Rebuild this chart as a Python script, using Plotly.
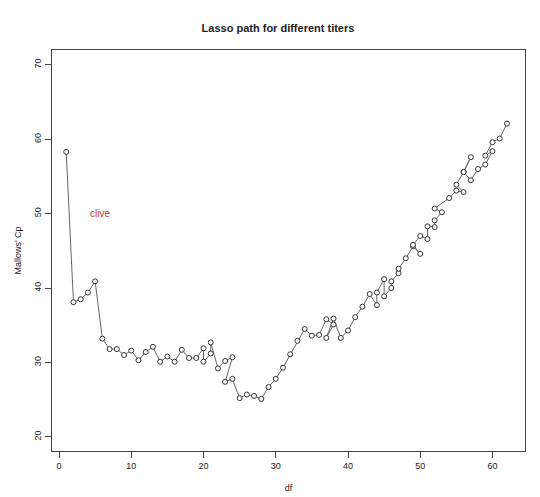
import plotly.graph_objects as go

# lasso path: df vs Mallows' Cp
df_vals = [1, 2, 3, 4, 5, 6, 7, 8, 9, 10, 11, 12, 13, 14, 15, 16, 17, 18, 19,
           20, 20, 21, 21, 22, 23, 24, 23, 24, 25, 26, 27, 28, 29, 30, 31, 32,
           33, 34, 35, 36, 37, 38, 37, 38, 39, 40, 41, 42, 43, 44, 44, 45, 45,
           46, 46, 47, 47, 48, 49, 50, 49, 50, 51, 51, 52, 52, 53, 52, 54, 55,
           56, 55, 56, 57, 56, 57, 58, 59, 60, 59, 60, 61, 62]
cp_vals = [58.3, 38.1, 38.5, 39.4, 40.9, 33.2, 31.8, 31.8, 31.0, 31.6, 30.3,
           31.4, 32.1, 30.1, 30.8, 30.1, 31.7, 30.6, 30.6, 31.9, 30.1, 31.2,
           32.7, 29.2, 30.2, 30.7, 27.4, 27.8, 25.2, 25.7, 25.5, 25.1, 26.7,
           27.8, 29.3, 31.1, 32.9, 34.5, 33.6, 33.7, 35.8, 35.1, 33.3, 35.9,
           33.3, 34.3, 36.1, 37.5, 39.2, 37.7, 39.4, 41.2, 38.9, 40.0, 40.9,
           42.0, 42.6, 44.0, 45.6, 44.6, 45.8, 47.0, 46.6, 48.3, 48.2, 49.1,
           50.2, 50.7, 52.1, 53.1, 52.9, 53.9, 55.6, 57.6, 55.6, 54.5, 56.0,
           56.6, 58.4, 57.8, 59.6, 60.1, 62.1]

fig = go.Figure()
fig.add_trace(go.Scatter(
    x=df_vals, y=cp_vals, mode="lines+markers",
    line=dict(color="#666666", width=1),
    marker=dict(symbol="circle", size=5, color="white",
                line=dict(color="#333333", width=1)),
    showlegend=False))

fig.add_annotation(x=5.7, y=50, text="clive", showarrow=False,
                   font=dict(color="#c0392b", size=10))

axis_common = dict(showgrid=False, zeroline=False, mirror=True, showline=True,
                   linecolor="#444444", linewidth=1, ticks="outside",
                   ticklen=6, tickcolor="#444444", automargin=False,
                   tickfont=dict(size=9, color="#222222"))
fig.update_xaxes(range=[-0.97, 64.5], tickvals=[0, 10, 20, 30, 40, 50, 60],
                 title=dict(text="df", font=dict(size=9), standoff=14), **axis_common)
fig.update_yaxes(range=[18.1, 72.0], tickvals=[20, 30, 40, 50, 60, 70],
                 tickangle=-90,
                 title=dict(text="Mallows' Cp", font=dict(size=9), standoff=10), **axis_common)

fig.update_layout(
    width=540, height=497,
    margin=dict(l=44, r=23, t=42, b=54),
    paper_bgcolor="white", plot_bgcolor="white",
    font=dict(family="Liberation Sans, Arial, sans-serif", color="#222222"),
    title=dict(text="<b>Lasso path for different titers</b>", x=0.5,
               xanchor="center", y=1 - 20 / 497, yanchor="middle",
               font=dict(size=11)))

fig.write_html("out.html")
